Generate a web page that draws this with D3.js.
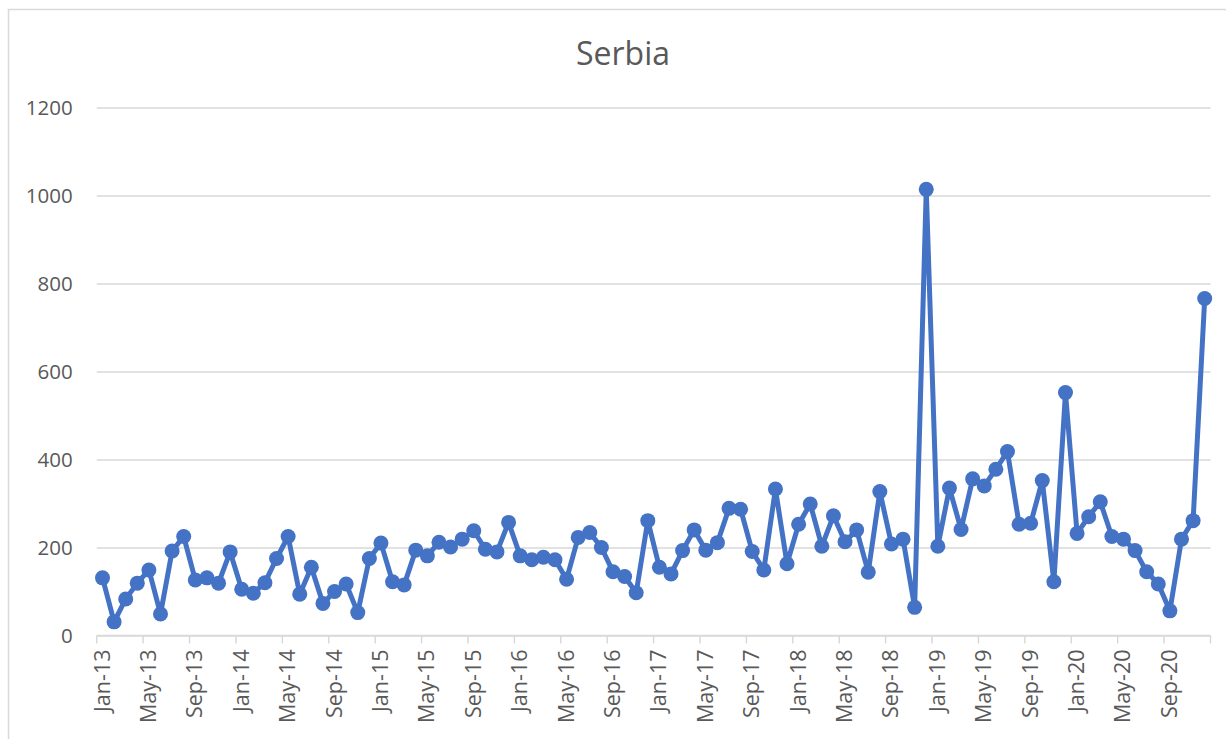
<!DOCTYPE html>
<html lang="en">

<head>
  <meta charset="utf-8">
  <title>Serbia</title>
  <script src="https://d3js.org/d3.v7.min.js"></script>
  <style>
    body {
      margin: 0;
      background: #fff;
    }

    text {
      font-family: "Open Sans", "Noto Sans", sans-serif;
      fill: #595959;
    }
  </style>
</head>

<body>
  <div id="chart"></div>
</body>
<script>
  // data
  var monthNames = ["Jan", "Feb", "Mar", "Apr", "May", "Jun", "Jul", "Aug", "Sep", "Oct", "Nov", "Dec"];
  var years = ["13", "14", "15", "16", "17", "18", "19", "20"];
  var values = [
    131, 31, 83, 119, 149, 49, 192, 225, 126, 131, 119, 190,
    105, 96, 120, 175, 225, 94, 155, 73, 100, 117, 52, 175,
    210, 122, 115, 194, 181, 212, 201, 219, 238, 196, 190, 257,
    181, 172, 178, 172, 128, 223, 234, 200, 145, 134, 97, 261,
    155, 140, 193, 240, 194, 211, 289, 287, 191, 149, 333, 163,
    253, 299, 203, 272, 213, 240, 144, 327, 208, 219, 64, 1014,
    203, 335, 241, 356, 340, 378, 418, 253, 255, 352, 122, 552,
    232, 270, 304, 225, 219, 193, 145, 117, 56, 219, 261, 766
  ];
  var yTicks = [0, 200, 400, 600, 800, 1000, 1200];

  var categories = [];
  years.forEach(function(yr) {
    monthNames.forEach(function(m) {
      categories.push(m + "-" + yr);
    });
  });
  var data = categories.map(function(c, i) {
    return { month: c, value: values[i] };
  });

  var width = 1226;
  var height = 739;
  var plot = { left: 96.7, right: 1210.5, top: 107.5, bottom: 635.5 };

  var svg = d3.select("#chart")
    .append("svg")
    .attr("width", width)
    .attr("height", height);

  // chart frame (runs off the right/bottom of the picture)
  svg.append("rect")
    .attr("x", 8.5)
    .attr("y", 9.5)
    .attr("width", 1240)
    .attr("height", 760)
    .attr("fill", "#fff")
    .attr("stroke", "#d9d9d9")
    .attr("stroke-width", 1.5);

  var x = d3.scaleBand().domain(categories).range([plot.left, plot.right]).padding(0);
  var y = d3.scaleLinear().domain([0, 1200]).range([plot.bottom, plot.top]);

  svg.append("text")
    .attr("x", 623)
    .attr("y", 65)
    .attr("text-anchor", "middle")
    .attr("font-size", "32px")
    .text("Serbia");

  // gridlines + y labels
  var yAxis = svg.append("g")
    .attr("transform", "translate(" + plot.left + ",0)")
    .call(d3.axisLeft(y).tickValues(yTicks).tickSize(-(plot.right - plot.left)).tickPadding(24).tickFormat(d3.format("d")));
  yAxis.select(".domain").remove();
  yAxis.selectAll(".tick line")
    .attr("stroke", "#d9d9d9")
    .attr("stroke-width", 1.5);
  yAxis.selectAll(".tick text")
    .attr("font-size", "20.5px")
    .attr("font-family", "Open Sans")
    .attr("fill", "#595959");

  // x axis: ticks on category boundaries every 4 months
  var xg = svg.append("g")
    .attr("transform", "translate(0," + plot.bottom + ")");
  xg.append("line")
    .attr("x1", plot.left)
    .attr("x2", plot.right)
    .attr("stroke", "#d9d9d9")
    .attr("stroke-width", 1.5);

  var tickCats = categories.filter(function(d, i) { return i % 4 === 0; });
  xg.selectAll(".xtick")
    .data(tickCats.concat(["end"]))
    .enter()
    .append("line")
    .attr("class", "xtick")
    .attr("x1", function(d) { return d === "end" ? plot.right : x(d); })
    .attr("x2", function(d) { return d === "end" ? plot.right : x(d); })
    .attr("y1", 0)
    .attr("y2", 8)
    .attr("stroke", "#d9d9d9")
    .attr("stroke-width", 1.5);

  xg.selectAll(".xlabel")
    .data(tickCats)
    .enter()
    .append("text")
    .attr("class", "xlabel")
    .attr("transform", function(d) {
      return "translate(" + (x(d) + x.bandwidth() / 2 + 7) + ",14) rotate(-90)";
    })
    .attr("text-anchor", "end")
    .attr("font-size", "21.5px")
    .text(function(d) { return d; });

  // series
  var line = d3.line()
    .x(function(d) { return x(d.month) + x.bandwidth() / 2; })
    .y(function(d) { return y(d.value); });

  svg.append("path")
    .datum(data)
    .attr("d", line)
    .attr("fill", "none")
    .attr("stroke", "#4472c4")
    .attr("stroke-width", 5)
    .attr("stroke-linejoin", "round");

  svg.selectAll(".dot")
    .data(data)
    .enter()
    .append("circle")
    .attr("class", "dot")
    .attr("cx", function(d) { return x(d.month) + x.bandwidth() / 2; })
    .attr("cy", function(d) { return y(d.value); })
    .attr("r", 7.5)
    .attr("fill", "#4472c4");
</script>

</html>
